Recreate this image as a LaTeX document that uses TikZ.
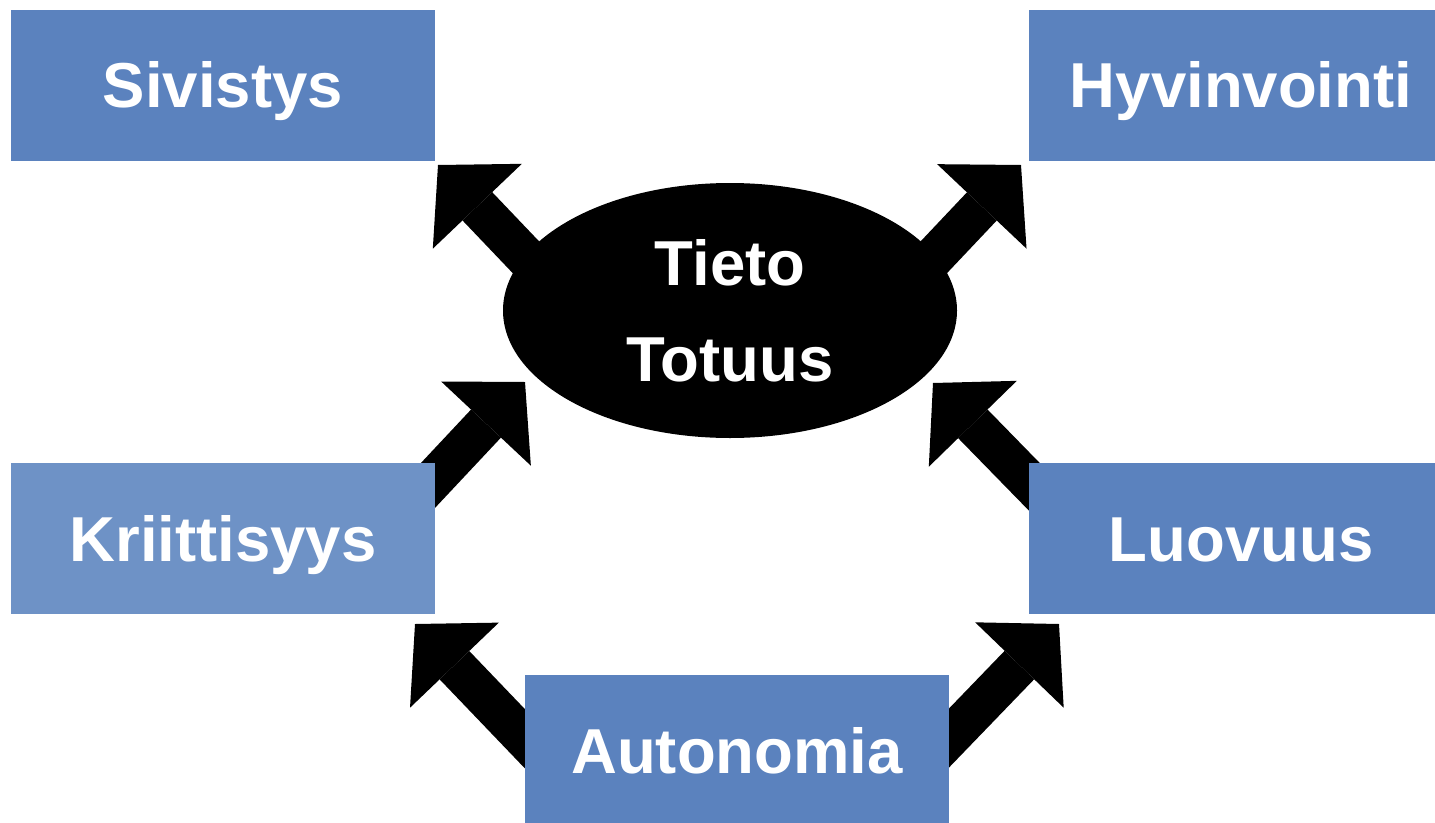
\documentclass[tikz,border=0pt]{standalone}
\usepackage{fontspec}
\setmainfont{Liberation Sans}
\usetikzlibrary{shapes.geometric,arrows.meta}
\definecolor{boxblue}{RGB}{91,130,190}
\definecolor{boxlight}{RGB}{110,146,198}
\begin{document}
\begin{tikzpicture}[x=1pt,y=-1pt,
  box/.style={rectangle, fill=boxblue, minimum width=424pt, minimum height=151pt,
    inner sep=0pt, text=white, font=\bfseries\fontsize{63.5}{96}\selectfont,
    text height=45.5pt, text depth=0pt},
  bigarrow/.style={line width=41pt, line cap=butt,
    -{Triangle[length=57pt,width=123pt,line width=0pt]}}]
\useasboundingbox (0,0) rectangle (1435,822);
\clip (0,0) rectangle (1435,822);

% arrow end points
\coordinate (t1) at (560,293);  \coordinate (h1) at (438,165);
\coordinate (t2) at (900,293);  \coordinate (h2) at (1021,165);
\coordinate (t3) at (404,511);  \coordinate (h3) at (525,382);
\coordinate (t4) at (1056,509); \coordinate (h4) at (933,383);
\coordinate (t5) at (551,766);  \coordinate (h5) at (415,624);
\coordinate (t6) at (922,766);  \coordinate (h6) at (1059,624);

\draw[bigarrow] (t1) -- (h1);
\draw[bigarrow] (t2) -- (h2);
\draw[bigarrow] (t3) -- (h3);
\draw[bigarrow] (t4) -- (h4);
\draw[bigarrow] (t5) -- (h5);
\draw[bigarrow] (t6) -- (h6);

\node[ellipse, fill=black, minimum width=454pt, minimum height=255pt, inner sep=0pt,
  text=white, align=center, font=\bfseries\fontsize{63.5}{96}\selectfont]
  (tieto) at (730,310.5) {Tieto\\Totuus};

\node[box] (sivistys) at (223,85) {Sivistys};
\node[box] (hyvinvointi) at (1241,85) {Hyvinvointi};
\node[box, fill=boxlight] (kriittisyys) at (223,538.5) {Kriittisyys};
\node[box] (luovuus) at (1241,538.5) {Luovuus};
\node[box] (autonomia) at (737,750.5) {Autonomia};
\end{tikzpicture}
\end{document}
